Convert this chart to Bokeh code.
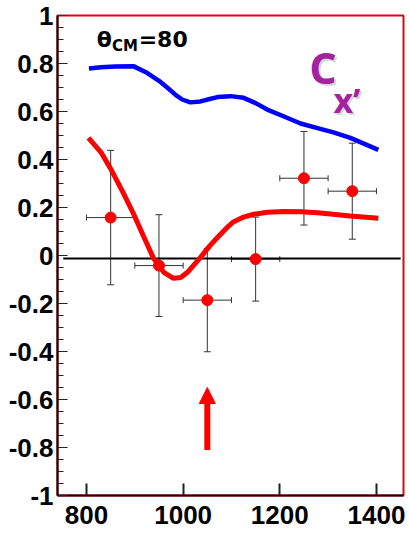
from bokeh.plotting import figure
from bokeh.models import (Range1d, FixedTicker, Whisker, TeeHead, ColumnDataSource,
                          Label, Arrow, NormalHead, Span)
from bokeh.embed import file_html
from bokeh.resources import INLINE

# ---- data ----
x_pts = [850, 950, 1050, 1150, 1250, 1350]
y_pts = [0.158, -0.042, -0.186, -0.015, 0.322, 0.268]
y_err = [0.28, 0.212, 0.215, 0.175, 0.195, 0.2]
x_err = [50, 50, 50, 50, 50, 50]

blue_x = [805, 830, 860, 897, 926, 950, 967, 985, 998, 1015, 1036, 1055, 1071, 1098, 1125, 1150, 1174, 1210, 1243, 1280, 1311, 1346, 1375, 1404]
blue_y = [0.779, 0.784, 0.788, 0.789, 0.76, 0.728, 0.70, 0.668, 0.65, 0.638, 0.642, 0.652, 0.66, 0.664, 0.657, 0.635, 0.608, 0.578, 0.55, 0.53, 0.513, 0.49, 0.465, 0.44]

red_x = [804, 830, 852, 875, 897, 918, 939, 960, 980, 995, 1009, 1022, 1036, 1055, 1071, 1090, 1104, 1125, 1146, 1175, 1208, 1245, 1278, 1310, 1346, 1404]
red_y = [0.49, 0.43, 0.354, 0.265, 0.175, 0.08, -0.013, -0.07, -0.095, -0.092, -0.07, -0.04, -0.008, 0.04, 0.075, 0.115, 0.14, 0.16, 0.172, 0.18, 0.183, 0.182, 0.178, 0.172, 0.165, 0.155]

zero_line_x = [752, 1450]
zero_line_y = [-0.0125, -0.0125]

arrow_x = 1050
arrow_y_start = -0.81
arrow_y_end = -0.55

x_ticks = [800, 1000, 1200, 1400]
y_ticks = [-1.0, -0.8, -0.6, -0.4, -0.2, 0.0, 0.2, 0.4, 0.6, 0.8, 1.0]
y_tick_labels = ["-1", "-0.8", "-0.6", "-0.4", "-0.2", "0", "0.2", "0.4", "0.6", "0.8", "1"]
y_minor = [round(-1 + 0.05 * i, 2) for i in range(41)]

TICK_FONT = "Liberation Sans"

p = figure(width=409, height=536, output_backend="svg", toolbar_location=None,
           x_range=Range1d(740, 1456), y_range=Range1d(-1, 1),
           min_border_left=57, min_border_right=6, min_border_top=15, min_border_bottom=41)
p.grid.visible = False
p.background_fill_color = "white"
p.border_fill_color = "white"
p.outline_line_color = "#d01010"
p.outline_line_width = 2

# axes
p.xaxis.ticker = FixedTicker(ticks=x_ticks)
p.xaxis.minor_tick_line_color = None
p.xaxis.major_tick_in = 12
p.xaxis.major_tick_out = 0
p.xaxis.major_tick_line_width = 2
p.xaxis.axis_line_width = 2
p.xaxis.major_label_standoff = 10
p.yaxis.ticker = FixedTicker(ticks=y_ticks, minor_ticks=y_minor)
p.yaxis.major_label_overrides = {t: l for t, l in zip(y_ticks, y_tick_labels)}
p.yaxis.major_tick_in = 10
p.yaxis.major_tick_out = 0
p.yaxis.minor_tick_in = 6
p.yaxis.minor_tick_out = 0
p.yaxis.axis_line_width = 2
p.yaxis.major_label_standoff = 4
for ax in (p.xaxis, p.yaxis):
    ax.major_label_text_font = TICK_FONT
    ax.major_label_text_font_style = "bold"
    ax.major_label_text_font_size = "26px"
    ax.major_label_text_color = "black"
    ax.axis_line_color = "black"
    ax.major_tick_line_color = "#222222"
p.yaxis.minor_tick_line_color = "#222222"

p.add_layout(Span(location=1.0, dimension="width", line_color="#444444", line_width=1))

# zero line
p.line(zero_line_x, zero_line_y, line_color="black", line_width=2)

# curves
p.line(blue_x, blue_y, line_color="#0000ff", line_width=4.5)
p.line(red_x, red_y, line_color="#ff0000", line_width=5)

# error bars
src = ColumnDataSource(dict(
    x=x_pts, y=y_pts,
    ylo=[y - e for y, e in zip(y_pts, y_err)], yhi=[y + e for y, e in zip(y_pts, y_err)],
    xlo=[x - e for x, e in zip(x_pts, x_err)], xhi=[x + e for x, e in zip(x_pts, x_err)]))
p.add_layout(Whisker(source=src, base="x", lower="ylo", upper="yhi", dimension="height",
                     line_color="#333333", line_width=1,
                     upper_head=TeeHead(size=7, line_color="#333333", line_width=1),
                     lower_head=TeeHead(size=7, line_color="#333333", line_width=1)))
p.add_layout(Whisker(source=src, base="y", lower="xlo", upper="xhi", dimension="width",
                     line_color="#333333", line_width=1,
                     upper_head=TeeHead(size=6, line_color="#333333", line_width=1),
                     lower_head=TeeHead(size=6, line_color="#333333", line_width=1)))
p.scatter("x", "y", source=src, size=11, fill_color="#ff0000", line_color="#ff0000")

# arrow
p.add_layout(Arrow(x_start=arrow_x, y_start=arrow_y_start, x_end=arrow_x, y_end=arrow_y_end,
                   line_color="#ff0000", line_width=6,
                   end=NormalHead(size=16, fill_color="#ff0000", line_color="#ff0000")))

# theta label
TF = "DejaVu Sans"
p.add_layout(Label(x=821, y=0.90, text="θ", text_font=TF, text_font_style="bold",
                   text_font_size="22px", text_baseline="alphabetic", text_color="black"))
p.add_layout(Label(x=853, y=0.875, text="CM", text_font=TF, text_font_style="bold",
                   text_font_size="15px", text_baseline="alphabetic", text_color="black"))
p.add_layout(Label(x=908, y=0.90, text="=80", text_font=TF, text_font_style="bold",
                   text_font_size="22px", text_baseline="alphabetic", text_color="black"))

# C_x' label with soft shadow
PURPLE = "#a3229f"
for dx, dy, col, alpha in ((2, -2, "#888888", 0.35), (0, 0, PURPLE, 1.0)):
    p.add_layout(Label(x=1261, y=0.783, x_offset=dx, y_offset=dy, text="C",
                       text_font="Open Sans", text_font_style="bold", text_font_size="43px",
                       text_baseline="alphabetic", text_color=col, text_alpha=alpha))
    p.add_layout(Label(x=1311, y=0.65, x_offset=dx, y_offset=dy, text="x’",
                       text_font="Open Sans", text_font_style="bold", text_font_size="34px",
                       text_baseline="alphabetic", text_color=col, text_alpha=alpha))

open("out.html", "w").write(file_html(p, INLINE))
